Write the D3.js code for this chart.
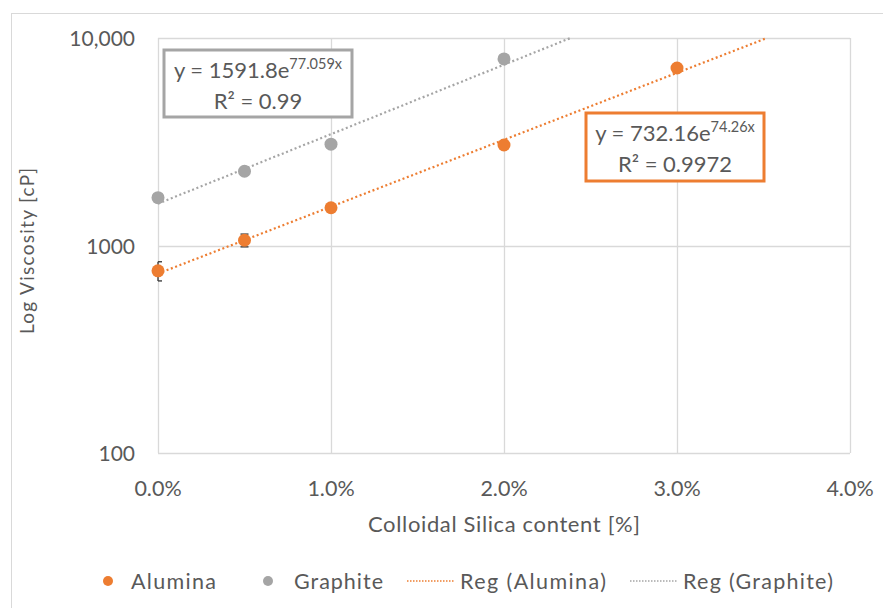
<!DOCTYPE html>
<html>
<head>
<meta charset="utf-8">
<script src="https://cdn.jsdelivr.net/npm/d3@7"></script>
<style>
  body { margin: 0; background: #fff; }
  text { font-family: Lato, "Open Sans", sans-serif; fill: #595959; }
</style>
</head>
<body>
<div id="chart"></div>
<script>
// DATA
const silica = [0, 0.005, 0.01, 0.02, 0.03];
const alumina = [755, 1060, 1520, 3050, 7170];
const aluminaErr = [80, 75, 40, 60, 100];
const graphiteX = [0, 0.005, 0.01, 0.02];
const graphite = [1700, 2280, 3080, 7930];
const xTicks = [0, 0.01, 0.02, 0.03, 0.04];
const yTicks = [100, 1000, 10000];
const yTickLabels = ["100", "1000", "10,000"];
// trendline coefficients: y = a * e^(b x)
const regAlumina = { a: 732.16, b: 74.26, r2: "0.9972" };
const regGraphite = { a: 1591.8, b: 77.059, r2: "0.99" };

const width = 883, height = 608;
const margin = { top: 38, right: 33, bottom: 155, left: 158 };
const orange = "#ED7D31", grey = "#A5A5A5";

const svg = d3.select("#chart").append("svg")
  .attr("width", width).attr("height", height);

// outer chart border
svg.append("rect")
  .attr("x", 11.5).attr("y", 13.5)
  .attr("width", 900).attr("height", 700)
  .attr("fill", "none").attr("stroke", "#d9d9d9");

const xScale = d3.scaleLinear()
  .domain([0, 0.04])
  .range([margin.left, width - margin.right]);

const yScale = d3.scaleLog()
  .domain([100, 10000])
  .range([height - margin.bottom, margin.top]);

// GRIDLINES
svg.append("g").selectAll("line")
  .data(yTicks)
  .join("line")
  .attr("x1", margin.left).attr("x2", width - margin.right)
  .attr("y1", d => Math.round(yScale(d)) + 0.5)
  .attr("y2", d => Math.round(yScale(d)) + 0.5)
  .attr("stroke", "#d9d9d9").attr("stroke-width", 1.3);

svg.append("g").selectAll("line")
  .data(xTicks)
  .join("line")
  .attr("x1", d => Math.round(xScale(d)) + 0.5)
  .attr("x2", d => Math.round(xScale(d)) + 0.5)
  .attr("y1", margin.top).attr("y2", height - margin.bottom)
  .attr("stroke", "#d9d9d9").attr("stroke-width", 1.3);

// AXES LABELS
svg.append("g").selectAll("text")
  .data(yTicks)
  .join("text")
  .attr("x", 135)
  .attr("y", d => yScale(d) + 8)
  .attr("text-anchor", "end")
  .attr("font-size", 21)
  .text((d, i) => yTickLabels[i]);

svg.append("g").selectAll("text")
  .data(xTicks)
  .join("text")
  .attr("x", d => xScale(d))
  .attr("y", 496)
  .attr("text-anchor", "middle")
  .attr("font-size", 21.5)
  .text(d => d3.format(".1%")(d));

svg.append("text")
  .attr("x", (margin.left + width - margin.right) / 2)
  .attr("y", 532)
  .attr("text-anchor", "middle")
  .attr("font-size", 22)
  .attr("textLength", 272)
  .text("Colloidal Silica content [%]");

svg.append("text")
  .attr("transform", "translate(34,251) rotate(-90)")
  .attr("text-anchor", "middle")
  .attr("font-size", 19)
  .attr("textLength", 166)
  .text("Log Viscosity [cP]");

// REGRESSION LINES
function regLine(reg) {
  const xEnd = Math.min(0.04, Math.log(10000 / reg.a) / reg.b);
  return d3.range(0, 41).map(i => {
    const x = xEnd * i / 40;
    return [x, reg.a * Math.exp(reg.b * x)];
  });
}
const line = d3.line().x(d => xScale(d[0])).y(d => yScale(d[1]));

[[regGraphite, grey], [regAlumina, orange]].forEach(([reg, c]) => {
  svg.append("path")
    .attr("d", line(regLine(reg)))
    .attr("fill", "none")
    .attr("stroke", c)
    .attr("stroke-width", 2.2)
    .attr("stroke-dasharray", "2 2.6");
});

// ERROR BARS
const eb = svg.append("g").attr("stroke", "#404040").attr("stroke-width", 1.4);
silica.forEach((x, i) => {
  const cx = xScale(x), lo = yScale(alumina[i] - aluminaErr[i]), hi = yScale(alumina[i] + aluminaErr[i]);
  eb.append("line").attr("x1", cx).attr("x2", cx).attr("y1", lo).attr("y2", hi);
  const x0 = x === 0 ? cx : cx - 4;
  eb.append("line").attr("x1", x0).attr("x2", cx + 4).attr("y1", lo).attr("y2", lo);
  eb.append("line").attr("x1", x0).attr("x2", cx + 4).attr("y1", hi).attr("y2", hi);
});

// POINTS
svg.append("g").selectAll("circle")
  .data(graphite)
  .join("circle")
  .attr("cx", (d, i) => xScale(graphiteX[i]))
  .attr("cy", d => yScale(d))
  .attr("r", 6.5)
  .attr("fill", grey);

svg.append("g").selectAll("circle")
  .data(alumina)
  .join("circle")
  .attr("cx", (d, i) => xScale(silica[i]))
  .attr("cy", d => yScale(d))
  .attr("r", 6.5)
  .attr("fill", orange);

// EQUATION BOXES
function eqBox(reg, c, bx, by, bw, bh, len1, len2) {
  const g = svg.append("g");
  g.append("rect")
    .attr("x", bx).attr("y", by).attr("width", bw).attr("height", bh)
    .attr("fill", "#fff").attr("stroke", c).attr("stroke-width", 3);
  const t1 = g.append("text")
    .attr("x", bx + bw / 2).attr("y", by + 28)
    .attr("text-anchor", "middle").attr("font-size", 22);
  t1.append("tspan").text("y = " + reg.a + "e");
  t1.append("tspan").attr("dy", -9).attr("font-size", 14.5).text(reg.b + "x");
  g.append("text")
    .attr("x", bx + bw / 2).attr("y", by + 59)
    .attr("text-anchor", "middle").attr("font-size", 22)
    .text("R² = " + reg.r2);
}
eqBox(regGraphite, "#A5A5A5", 164, 50, 188, 67);
eqBox(regAlumina, orange, 586, 113, 178, 68);

// LEGEND
const legend = svg.append("g").attr("transform", "translate(0,581)");
const items = [
  { type: "dot", c: orange, label: "Alumina", x: 108, tx: 131, w: 85 },
  { type: "dot", c: grey, label: "Graphite", x: 268, tx: 294, w: 89 },
  { type: "line", c: orange, label: "Reg (Alumina)", x: 407, tx: 460, w: 146 },
  { type: "line", c: grey, label: "Reg (Graphite)", x: 630, tx: 683, w: 150 }
];
items.forEach(it => {
  if (it.type === "dot") {
    legend.append("circle").attr("cx", it.x).attr("cy", 0).attr("r", 5).attr("fill", it.c);
  } else {
    legend.append("line").attr("x1", it.x).attr("x2", it.x + 48).attr("y1", 0).attr("y2", 0)
      .attr("stroke", it.c).attr("stroke-width", 1.5).attr("stroke-dasharray", "1.5 1.5");
  }
  legend.append("text").attr("x", it.tx).attr("y", 8)
    .attr("font-size", 21.5).attr("textLength", it.w).text(it.label);
});
</script>
</body>
</html>
